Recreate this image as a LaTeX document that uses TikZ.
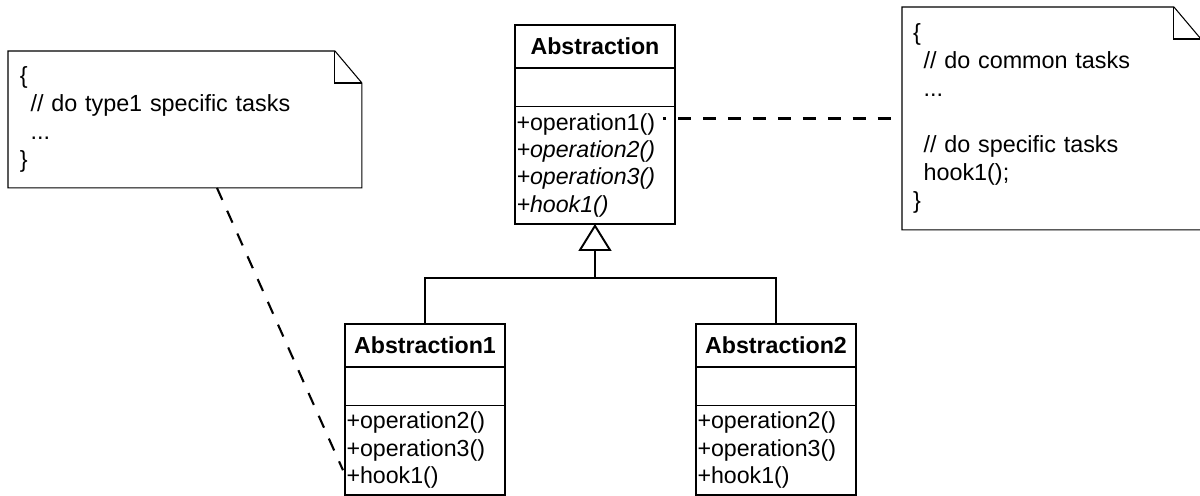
\documentclass[tikz,border=0pt]{standalone}
\usepackage{fontspec}
\setmainfont{Liberation Sans}
\usetikzlibrary{positioning,calc,arrows.meta}

\tikzset{
  umlbox/.style={draw, line width=1.1pt, minimum width=3.2cm, inner sep=0pt, outer sep=0pt,
    font=\fontsize{13.2}{15.5}\selectfont},
  classname/.style={umlbox, minimum height=0.86cm,
    font=\fontsize{13.2}{15.5}\selectfont\bfseries},
  classattr/.style={umlbox, minimum height=0.77cm},
  classops/.style={umlbox, align=left, text width=3.14cm, inner xsep=0.03cm},
  notebox/.style={anchor=north west, align=left, inner ysep=0pt, outer sep=0pt,
    font=\fontsize{13.3}{15.9}\selectfont},
  notefold/.style={line width=0.6pt},
  noteline/.style={line width=1.2pt, dash pattern=on 7.4pt off 6.8pt},
  genline/.style={line width=0.8pt}
}

\begin{document}
\begin{tikzpicture}[x=0.02cm, y=-0.02cm]

  \useasboundingbox (0,0) rectangle (1200,496);

  % Draw the abstract class
  \node[classname, anchor=north west] (absName) at (515,25) {Abstraction};
  \node[classattr, below=0pt of absName] (absAttr) {};
  \node[classops, minimum height=2.35cm, below=0pt of absAttr] (absOps)
    {+operation1()\\ \itshape +operation2()\\ \itshape +operation3()\\ \itshape +hook1()};

  % Draw the two concrete classes
  \node[classname, anchor=north west] (subAName) at (345,324) {Abstraction1};
  \node[classattr, below=0pt of subAName] (subAAttr) {};
  \node[classops, minimum height=1.79cm, below=0pt of subAAttr] (subAOps)
    {+operation2()\\ +operation3()\\ +hook1()};

  \node[classname, anchor=north west] (subBName) at (696,324) {Abstraction2};
  \node[classattr, below=0pt of subBName] (subBAttr) {};
  \node[classops, minimum height=1.79cm, below=0pt of subBAttr] (subBOps)
    {+operation2()\\ +operation3()\\ +hook1()};

  % Draw the notes
  \node[notebox, text width=6.6cm, inner xsep=0.24cm, minimum height=2.74cm] (noteL) at (8,51)
    {\{\\ \hspace*{6pt}// do type1 specific tasks\\ \hspace*{6pt}...\\ \}};
  \node[notebox, text width=5.54cm, inner xsep=0.22cm, minimum height=4.46cm] (noteR) at (902,7)
    {\{\\ \hspace*{6pt}// do common tasks\\ \hspace*{6pt}...\\ \mbox{}\\
     \hspace*{6pt}// do specific tasks\\ \hspace*{6pt}hook1();\\ \}};

  \foreach \n in {noteL,noteR} {
    \draw[notefold] (\n.north west) -- ($(\n.north east)+(-27,0)$)
      -- ($(\n.north east)+(0,32)$) -- (\n.south east) -- (\n.south west) -- cycle;
    \draw[notefold] ($(\n.north east)+(-27,0)$) |- ($(\n.north east)+(0,32)$);
  }

  % Draw the generalization
  \coordinate (split) at ($(absOps.south)+(0,54)$);
  \draw[genline, -{Triangle[open, length=0.54cm, width=0.66cm, line width=1.1pt]}]
    (split) -- (absOps.south);
  \draw[genline] (subAName.north) |- (split) -| (subBName.north);

  % Draw the note anchors
  \coordinate (opOneEnd) at ($(absOps.north east)+(-12,12)$);
  \draw[noteline, dash phase=5.6pt] (opOneEnd) -- (opOneEnd -| noteR.west);
  \coordinate (noteLFoot) at ($(noteL.south west)+(209,0)$);
  \draw[noteline] (noteLFoot) -- ($(subAOps.west)+(-2,20)$);

\end{tikzpicture}
\end{document}
